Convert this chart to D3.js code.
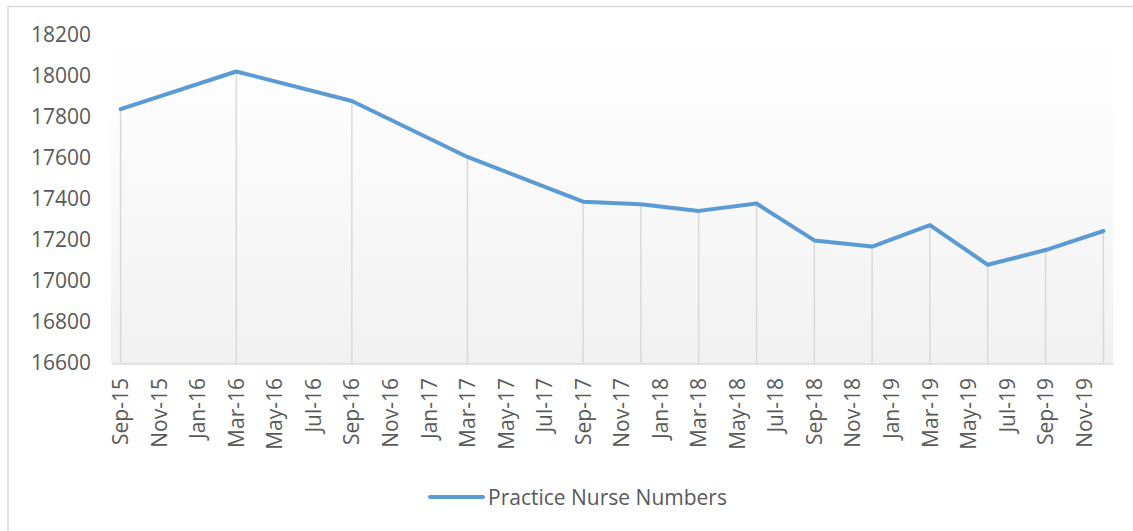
<!DOCTYPE html>
<html lang="en">
<head>
<meta charset="utf-8">
<title>Practice Nurse Numbers</title>
<style>
  html, body { margin: 0; padding: 0; background: #fff; }
  svg { display: block; }
  .tick-label { font-family: "Open Sans", sans-serif; font-size: 21px; fill: #595959; }
</style>
</head>
<body>
<div id="chart"></div>
<script src="https://d3js.org/d3.v7.min.js"></script>
<script>
  // months since Sep-15 for each observation
  const monthIndex = [0, 6, 12, 18, 24, 27, 30, 33, 36, 39, 42, 45, 48, 51];
  const nurseNumbers = [17838, 18022, 17878, 17605, 17387, 17374, 17342, 17378, 17198, 17168, 17273, 17079, 17151, 17244];
  const xLabels = ["Sep-15", "Nov-15", "Jan-16", "Mar-16", "May-16", "Jul-16", "Sep-16", "Nov-16",
    "Jan-17", "Mar-17", "May-17", "Jul-17", "Sep-17", "Nov-17", "Jan-18", "Mar-18", "May-18",
    "Jul-18", "Sep-18", "Nov-18", "Jan-19", "Mar-19", "May-19", "Jul-19", "Sep-19", "Nov-19"];
  const yTicks = [16600, 16800, 17000, 17200, 17400, 17600, 17800, 18000, 18200];
  const seriesName = "Practice Nurse Numbers";

  const width = 1133, height = 531;
  const plot = { left: 111, right: 1113, top: 35, bottom: 363 };

  const x = d3.scaleLinear().domain([-0.5, 51.5]).range([plot.left, plot.right]);
  const y = d3.scaleLinear().domain([16600, 18200]).range([plot.bottom, plot.top]);

  const svg = d3.select("#chart").append("svg")
      .attr("width", width)
      .attr("height", height)
      .attr("viewBox", [0, 0, width, height]);

  const defs = svg.append("defs");
  const grad = defs.append("linearGradient")
      .attr("id", "plotbg")
      .attr("x1", 0).attr("y1", 0).attr("x2", 0).attr("y2", 1);
  grad.append("stop").attr("offset", "0%").attr("stop-color", "#ffffff");
  grad.append("stop").attr("offset", "20%").attr("stop-color", "#fdfdfd");
  grad.append("stop").attr("offset", "100%").attr("stop-color", "#f1f1f1");

  // chart border (runs off the right and bottom of the picture)
  svg.append("rect")
      .attr("x", 8).attr("y", 6.5)
      .attr("width", 1140).attr("height", 540)
      .attr("fill", "none")
      .attr("stroke", "#d9d9d9")
      .attr("stroke-width", 1.5);

  // plot area
  svg.append("rect")
      .attr("x", plot.left).attr("y", plot.top - 5)
      .attr("width", plot.right - plot.left)
      .attr("height", plot.bottom - plot.top + 5)
      .attr("fill", "url(#plotbg)");

  const points = monthIndex.map((m, i) => ({ m, v: nurseNumbers[i] }));

  // drop lines
  svg.append("g")
      .attr("stroke", "#d9d9d9")
      .attr("stroke-width", 1.5)
      .selectAll("line")
      .data(points)
      .join("line")
      .attr("x1", d => x(d.m)).attr("x2", d => x(d.m))
      .attr("y1", d => y(d.v)).attr("y2", plot.bottom);

  // x axis line
  const xAxis = svg.append("g")
      .attr("transform", `translate(0,${plot.bottom + 0.5})`)
      .call(d3.axisBottom(x).tickValues([]).tickSizeOuter(0));
  xAxis.select(".domain").attr("stroke", "#d9d9d9").attr("stroke-width", 1.5);

  // x labels every 2 months, rotated
  svg.append("g")
      .selectAll("text")
      .data(xLabels)
      .join("text")
      .attr("class", "tick-label")
      .attr("transform", (d, i) => `translate(${x(i * 2)},${plot.bottom + 15}) rotate(-90)`)
      .attr("text-anchor", "end")
      .attr("dy", "0.36em")
      .text(d => d);

  // y axis labels
  const yAxis = svg.append("g")
      .attr("transform", `translate(${plot.left - 20},0)`)
      .call(d3.axisLeft(y).tickValues(yTicks).tickSize(0).tickFormat(d3.format("d")));
  yAxis.select(".domain").remove();
  yAxis.selectAll("text")
      .attr("class", "tick-label")
      .attr("font-family", null).attr("font-size", null)
      .attr("fill", null)
      .attr("x", 0);

  // series line
  const line = d3.line().x(d => x(d.m)).y(d => y(d.v));
  svg.append("path")
      .datum(points)
      .attr("d", line)
      .attr("fill", "none")
      .attr("stroke", "#5b9bd5")
      .attr("stroke-width", 4)
      .attr("stroke-linejoin", "round")
      .attr("stroke-linecap", "round");

  // legend
  const legend = svg.append("g").attr("transform", "translate(430,497)");
  legend.append("line")
      .attr("x1", 0).attr("x2", 53)
      .attr("stroke", "#5b9bd5")
      .attr("stroke-width", 4)
      .attr("stroke-linecap", "round");
  legend.append("text")
      .attr("class", "tick-label")
      .attr("x", 58)
      .attr("dy", "0.36em")
      .text(seriesName);
</script>
</body>
</html>
